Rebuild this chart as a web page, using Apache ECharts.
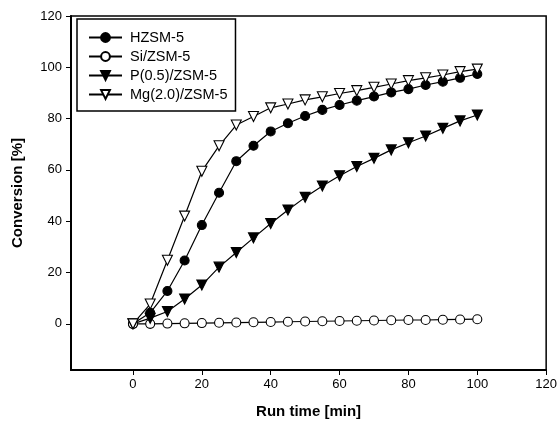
<!DOCTYPE html>
<html>
<head>
<meta charset="utf-8">
<script src="https://cdn.jsdelivr.net/npm/echarts@6/dist/echarts.min.js"></script>
<style>html,body{margin:0;padding:0;background:#fff;}#c{width:560px;height:430px;}</style>
</head>
<body>
<div id="c"></div>
<script>
var runTime = [0, 5, 10, 15, 20, 25, 30, 35, 40, 45, 50, 55, 60, 65, 70, 75, 80, 85, 90, 95, 100];
var hzsm = [0, 4.3, 12.8, 24.7, 38.5, 51.1, 63.4, 69.4, 75.0, 78.2, 81.0, 83.4, 85.3, 87.0, 88.6, 90.2, 91.5, 93.1, 94.4, 95.9, 97.4];
var siZsm = [0, 0, 0.1, 0.2, 0.3, 0.4, 0.5, 0.6, 0.7, 0.8, 0.9, 1.0, 1.1, 1.2, 1.3, 1.4, 1.5, 1.5, 1.6, 1.7, 1.8];
var pZsm = [0, 2.2, 4.8, 9.7, 15.1, 22.1, 27.8, 33.5, 39.1, 44.4, 49.3, 53.7, 57.7, 61.3, 64.5, 67.8, 70.6, 73.2, 76.2, 79.1, 81.4];
var mgZsm = [0, 7.7, 24.8, 42.0, 59.5, 69.4, 77.5, 80.8, 84.2, 85.7, 87.3, 88.5, 89.8, 90.9, 92.2, 93.5, 94.8, 95.9, 97.0, 98.3, 99.3];
var seriesNames = ['HZSM-5', 'Si/ZSM-5', 'P(0.5)/ZSM-5', 'Mg(2.0)/ZSM-5'];
var xTicks = [0, 20, 40, 60, 80, 100, 120];
var yTicks = [0, 20, 40, 60, 80, 100, 120];

function pairs(ys) { return runTime.map(function (x, i) { return [x, ys[i]]; }); }

var font = '"Liberation Sans", Arial, sans-serif';
function mk(name, ys, symbol, rotate, filled) {
  return {
    name: name, type: 'line', data: pairs(ys),
    symbol: symbol, symbolRotate: rotate, symbolSize: symbol === 'circle' ? 9 : 10,
    showAllSymbol: true,
    lineStyle: { color: '#000', width: 1.2 },
    itemStyle: { color: filled ? '#000' : '#fff', borderColor: '#000', borderWidth: 1.1 },
    emphasis: { disabled: true },
    animation: false
  };
}

var chart = echarts.init(document.getElementById('c'), null, { renderer: 'canvas' });
chart.setOption({
  animation: false,
  backgroundColor: '#fff',
  grid: { left: 71, top: 16, right: 12, bottom: 60, show: true, borderColor: '#000', borderWidth: 1.5 },
  legend: {
    orient: 'vertical', left: 77, top: 19,
    padding: [11, 8, 9, 11],
    itemWidth: 33, itemHeight: 11, itemGap: 4,
    borderColor: '#000', borderWidth: 1.5, backgroundColor: '#fff',
    textStyle: { fontFamily: font, fontSize: 14.5, color: '#000', padding: [0, 0, 0, 3] },
    data: seriesNames
  },
  xAxis: {
    type: 'value', min: -18, max: 120,
    name: 'Run time [min]', nameLocation: 'middle', nameGap: 34,
    nameTextStyle: { fontFamily: font, fontSize: 15, fontWeight: 'bold', color: '#000' },
    axisLine: { show: true, onZero: false, lineStyle: { color: '#000', width: 2 } },
    axisTick: { show: true, inside: false, length: 5, customValues: xTicks, lineStyle: { color: '#000', width: 1 } },
    axisLabel: { customValues: xTicks, margin: 8, fontFamily: font, fontSize: 13, color: '#000' },
    splitLine: { show: false }
  },
  yAxis: {
    type: 'value', min: -18, max: 120,
    name: 'Conversion [%]', nameLocation: 'middle', nameGap: 46,
    nameTextStyle: { fontFamily: font, fontSize: 15, fontWeight: 'bold', color: '#000' },
    axisLine: { show: true, onZero: false, lineStyle: { color: '#000', width: 2 } },
    axisTick: { show: true, inside: false, length: 5, customValues: yTicks, lineStyle: { color: '#000', width: 1 } },
    axisLabel: { customValues: yTicks, margin: 9, fontFamily: font, fontSize: 13, color: '#000' },
    splitLine: { show: false }
  },
  series: [
    mk(seriesNames[0], hzsm, 'circle', 0, true),
    mk(seriesNames[1], siZsm, 'circle', 0, false),
    mk(seriesNames[2], pZsm, 'triangle', 180, true),
    mk(seriesNames[3], mgZsm, 'triangle', 180, false)
  ]
});
</script>
</body>
</html>
